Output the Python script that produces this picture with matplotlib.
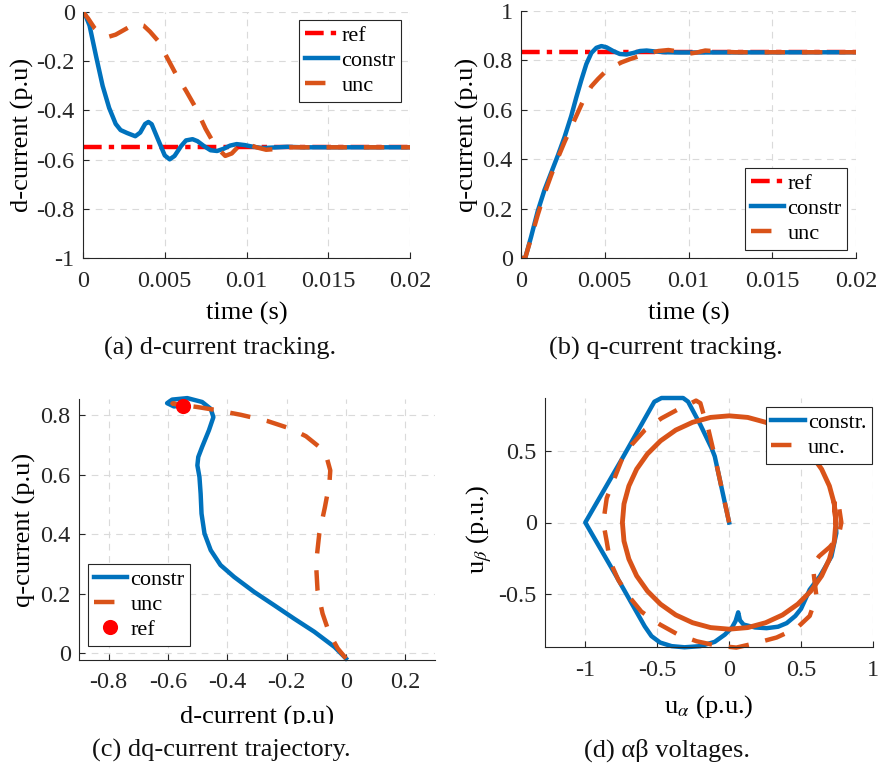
import matplotlib
matplotlib.use("Agg")
import matplotlib.pyplot as plt
from matplotlib.transforms import Bbox, TransformedBbox

plt.rcParams["font.family"] = ["Liberation Serif", "DejaVu Serif"]
plt.rcParams["mathtext.fontset"] = "stix"
plt.rcParams["axes.unicode_minus"] = False

BLUE = "#0072BD"
ORANGE = "#D95319"
RED = "#FF0000"
DARK = "#262626"

# (a) d-current tracking
t_d_constr = [0, 0.0001, 0.0004, 0.0008, 0.0012, 0.0016, 0.002, 0.0023, 0.0027, 0.0032, 0.0035,
              0.0038, 0.004, 0.0042, 0.0046, 0.005, 0.0053, 0.0056, 0.006, 0.0063, 0.0067, 0.007,
              0.0074, 0.0078, 0.0082, 0.0086, 0.009, 0.0094, 0.0099, 0.0104, 0.011, 0.0116, 0.0125,
              0.0135, 0.02]
d_constr = [0, -0.005, -0.055, -0.18, -0.3, -0.39, -0.455, -0.48, -0.492, -0.505, -0.49,
            -0.455, -0.447, -0.456, -0.52, -0.583, -0.599, -0.585, -0.545, -0.522, -0.517, -0.525,
            -0.545, -0.562, -0.565, -0.556, -0.543, -0.537, -0.541, -0.548, -0.553, -0.551, -0.548,
            -0.55, -0.55]
t_d_unc = [0, 0.0003, 0.0007, 0.0011, 0.0016, 0.002, 0.0024, 0.0028, 0.0033, 0.0037, 0.0041,
           0.0046, 0.0051, 0.0057, 0.0063, 0.0069, 0.0075, 0.0081, 0.0087, 0.0091, 0.0096, 0.0101,
           0.0106, 0.0112, 0.0118, 0.0127, 0.02]
d_unc = [0, -0.025, -0.065, -0.09, -0.1, -0.092, -0.077, -0.062, -0.048, -0.055, -0.08,
         -0.118, -0.18, -0.255, -0.32, -0.39, -0.475, -0.545, -0.585, -0.575, -0.54, -0.538,
         -0.55, -0.56, -0.557, -0.55, -0.55]
d_ref = -0.55

# (b) q-current tracking
t_q_constr = [0, 0.00025, 0.0006, 0.001, 0.0014, 0.0018, 0.0022, 0.0026, 0.003, 0.0033, 0.0036,
              0.0039, 0.0042, 0.0045, 0.0048, 0.0051, 0.0055, 0.0059, 0.0063, 0.0067, 0.0071,
              0.0075, 0.008, 0.0086, 0.0095, 0.02]
q_constr = [0, 0, 0.085, 0.19, 0.275, 0.345, 0.415, 0.49, 0.575, 0.65, 0.72,
            0.785, 0.83, 0.851, 0.858, 0.853, 0.838, 0.826, 0.824, 0.83, 0.838,
            0.84, 0.836, 0.833, 0.832, 0.833]
t_q_unc = [0, 0.00025, 0.0006, 0.001, 0.0014, 0.0018, 0.0022, 0.0026, 0.003, 0.0034, 0.0038,
           0.0042, 0.0046, 0.005, 0.0055, 0.006, 0.0065, 0.007, 0.0076, 0.0082, 0.0088, 0.0094,
           0.0099, 0.0105, 0.011, 0.0118, 0.0128, 0.02]
q_unc = [0, 0, 0.08, 0.175, 0.26, 0.335, 0.405, 0.47, 0.53, 0.59, 0.65,
         0.695, 0.725, 0.752, 0.775, 0.792, 0.805, 0.816, 0.828, 0.838, 0.842, 0.836,
         0.826, 0.832, 0.84, 0.836, 0.833, 0.833]
q_ref = 0.833

# (c) dq-current trajectory
dq_constr_d = [0, -0.039, -0.107, -0.175, -0.242, -0.31, -0.377, -0.423, -0.456, -0.477, -0.487,
               -0.49, -0.494, -0.501, -0.498, -0.485, -0.462, -0.447, -0.456, -0.485, -0.535,
               -0.586, -0.603, -0.58, -0.55]
dq_constr_q = [-0.017, 0.022, 0.073, 0.117, 0.162, 0.207, 0.257, 0.297, 0.347, 0.403, 0.47,
               0.537, 0.593, 0.632, 0.66, 0.694, 0.75, 0.794, 0.822, 0.845, 0.858,
               0.853, 0.841, 0.83, 0.833]
dq_unc_d = [0, -0.028, -0.056, -0.079, -0.096, -0.101, -0.09, -0.071, -0.056, -0.053, -0.064,
            -0.09, -0.135, -0.186, -0.265, -0.355, -0.445, -0.501, -0.569, -0.585, -0.55]
dq_unc_q = [-0.017, 0.017, 0.067, 0.134, 0.213, 0.302, 0.403, 0.492, 0.571, 0.615, 0.655,
            0.694, 0.73, 0.755, 0.781, 0.802, 0.819, 0.828, 0.837, 0.84, 0.834]
dq_ref = (-0.55, 0.833)

# (d) alpha-beta voltages
ab_constr_a = [0.0, -0.05, -0.1, -0.122, -0.2, -0.285, -0.32, -0.47, -0.52, -0.75, -1.0, -0.8,
               -0.587, -0.54, -0.48, -0.4, -0.31, -0.2, -0.1, -0.03, 0.02, 0.045, 0.063, 0.075,
               0.1, 0.18, 0.26, 0.34, 0.4, 0.46, 0.5, 0.56, 0.63, 0.711, 0.745, 0.742]
ab_constr_b = [0.0, 0.23, 0.46, 0.517, 0.68, 0.84, 0.866, 0.866, 0.84, 0.433, 0.0, -0.346,
               -0.722, -0.79, -0.835, -0.86, -0.868, -0.86, -0.83, -0.78, -0.73, -0.685, -0.625, -0.68,
               -0.71, -0.73, -0.735, -0.725, -0.7, -0.65, -0.6, -0.467, -0.375, -0.236, -0.074, 0.0]
ab_unc_a = [0.0, -0.05, -0.1, -0.146, -0.18, -0.2, -0.23, -0.28, -0.342, -0.47, -0.585, -0.678,
            -0.747, -0.806, -0.851, -0.875, -0.851, -0.828, -0.77, -0.7, -0.61, -0.48, -0.354,
            -0.226, -0.088, 0.05, 0.18, 0.33, 0.47, 0.56, 0.607, 0.595, 0.585, 0.6, 0.625, 0.7,
            0.76, 0.78, 0.765, 0.717]
ab_unc_b = [0.0, 0.23, 0.46, 0.655, 0.76, 0.83, 0.848, 0.822, 0.794, 0.725, 0.644, 0.54,
            0.435, 0.285, 0.169, 0.0, -0.132, -0.27, -0.4, -0.51, -0.62, -0.71, -0.78,
            -0.826, -0.856, -0.87, -0.84, -0.8, -0.735, -0.65, -0.514, -0.42, -0.33, -0.27, -0.235, -0.17,
            -0.1, 0.0, 0.1, 0.192]
# steady-state circle of the unconstrained voltage
circ_a = [0.742, 0.731, 0.697, 0.643, 0.568, 0.477, 0.371, 0.254, 0.129, 0.0,
          -0.129, -0.254, -0.371, -0.477, -0.568, -0.643, -0.697, -0.731, -0.742,
          -0.731, -0.697, -0.643, -0.568, -0.477, -0.371, -0.254, -0.129, 0.0,
          0.129, 0.254, 0.371, 0.477, 0.568, 0.643, 0.697, 0.731, 0.742, 0.731]
circ_b = [0.0, 0.129, 0.254, 0.371, 0.477, 0.568, 0.643, 0.697, 0.731, 0.742,
          0.731, 0.697, 0.643, 0.568, 0.477, 0.371, 0.254, 0.129, 0.0,
          -0.129, -0.254, -0.371, -0.477, -0.568, -0.643, -0.697, -0.731, -0.742,
          -0.731, -0.697, -0.643, -0.568, -0.477, -0.371, -0.254, -0.129, 0.0, 0.129]

t_ticks = [0, 0.005, 0.01, 0.015, 0.02]
t_labels = ["0", "0.005", "0.01", "0.015", "0.02"]
d_ticks = [-1, -0.8, -0.6, -0.4, -0.2, 0]
d_labels = ["-1", "-0.8", "-0.6", "-0.4", "-0.2", "0"]
q_ticks = [0, 0.2, 0.4, 0.6, 0.8, 1]
q_labels = ["0", "0.2", "0.4", "0.6", "0.8", "1"]
c_xticks = [-0.8, -0.6, -0.4, -0.2, 0, 0.2]
c_xlabels = ["-0.8", "-0.6", "-0.4", "-0.2", "0", "0.2"]
c_yticks = [0, 0.2, 0.4, 0.6, 0.8]
c_ylabels = ["0", "0.2", "0.4", "0.6", "0.8"]
v_xticks = [-1, -0.5, 0, 0.5, 1]
v_xlabels = ["-1", "-0.5", "0", "0.5", "1"]
v_yticks = [-0.5, 0, 0.5]
v_ylabels = ["-0.5", "0", "0.5"]

DASH = (0, (4.6, 3.8))
DASHDOT = (0, (4.2, 1.6, 1.2, 1.6))
LW = 3.2

W, H = 880, 769
fig = plt.figure(figsize=(W / 100, H / 100), dpi=100)


def px_axes(left, top, right, bottom):
    return fig.add_axes([left / W, 1 - bottom / H, (right - left) / W, (bottom - top) / H])


def style(ax):
    for side in ("top", "right"):
        ax.spines[side].set_visible(False)
    for side in ("left", "bottom"):
        ax.spines[side].set_color(DARK)
        ax.spines[side].set_linewidth(0.8)
    ax.tick_params(direction="in", length=4, width=0.8, colors=DARK, labelsize=17.5)
    ax.tick_params(axis="x", pad=9)
    ax.tick_params(axis="y", pad=6)
    ax.grid(True, color="#dadada", linestyle=(0, (6, 5)), linewidth=0.8)
    ax.set_axisbelow(True)


def legend(ax, loc, anchor):
    leg = ax.legend(loc=loc, bbox_to_anchor=anchor, bbox_transform=fig.transFigure,
                    borderaxespad=0, fontsize=16, handlelength=1.5, handletextpad=0.15,
                    borderpad=0.25, labelspacing=0.2, fancybox=False, framealpha=1)
    leg.get_frame().set_edgecolor(DARK)
    leg.get_frame().set_linewidth(0.8)
    return leg


# (a)
ax = px_axes(83, 12, 410, 258)
style(ax)
ax.plot([t_ticks[0], t_ticks[-1]], [d_ref, d_ref], color=RED, lw=LW, ls=DASHDOT, label="ref")
ax.plot(t_d_constr, d_constr, color=BLUE, lw=LW, label="constr")
ax.plot(t_d_unc, d_unc, color=ORANGE, lw=LW, ls=DASH, label="unc")
ax.set_xlim(0, 0.02)
ax.set_ylim(-1, 0)
ax.set_xticks(t_ticks, t_labels)
ax.set_yticks(d_ticks, d_labels)
ax.set_xlabel("time (s)", fontsize=19)
ax.set_ylabel("d-current (p.u)", fontsize=19)
ax.xaxis.set_label_coords(0.5, -0.178)
ax.yaxis.set_label_coords(-0.15, 0.5)
legend(ax, "upper right", (401 / W, 1 - 20 / H))

# (b)
ax = px_axes(521, 11, 856, 258)
style(ax)
ax.plot([t_ticks[0], t_ticks[-1]], [q_ref, q_ref], color=RED, lw=LW, ls=DASHDOT, label="ref")
ax.plot(t_q_constr, q_constr, color=BLUE, lw=LW, label="constr")
ax.plot(t_q_unc, q_unc, color=ORANGE, lw=LW, ls=DASH, label="unc")
ax.set_xlim(0, 0.02)
ax.set_ylim(0, 1)
ax.set_xticks(t_ticks, t_labels)
ax.set_yticks(q_ticks, q_labels)
ax.set_xlabel("time (s)", fontsize=19)
ax.set_ylabel("q-current (p.u)", fontsize=19)
ax.xaxis.set_label_coords(0.5, -0.178)
ax.yaxis.set_label_coords(-0.125, 0.5)
legend(ax, "upper right", (847 / W, 1 - 168 / H))

# (c)
ax = px_axes(79, 399, 435, 660)
style(ax)
ax.plot(dq_constr_d, dq_constr_q, color=BLUE, lw=LW, label="constr", clip_on=False)
ax.plot(dq_unc_d, dq_unc_q, color=ORANGE, lw=LW, ls=DASH, label="unc", clip_on=False)
ax.plot([dq_ref[0]], [dq_ref[1]], ls="none", marker="o", ms=8.5, mew=2.4,
        mfc=RED, mec=RED, label="ref", clip_on=False)
ax.set_xlim(-0.9, 0.3)
ax.set_ylim(-0.022, 0.855)
ax.set_xticks(c_xticks, c_xlabels)
ax.set_yticks(c_yticks, c_ylabels)
xl = ax.set_xlabel("d-current (p.u)", fontsize=19)
ax.set_ylabel("q-current (p.u)", fontsize=19)
ax.xaxis.set_label_coords(0.5, -0.176)
ax.yaxis.set_label_coords(-0.121, 0.5)
xl.set_clip_box(TransformedBbox(Bbox([[0, (H - 724) / H], [1, 1]]), fig.transFigure))
xl.set_clip_on(True)
legend(ax, "upper left", (88 / W, 1 - 564 / H))

# (d)
ax = px_axes(545, 398, 873, 647)
style(ax)
ax.plot(ab_constr_a, ab_constr_b, color=BLUE, lw=LW, label="constr.", clip_on=False)
ax.plot(ab_unc_a, ab_unc_b, color=ORANGE, lw=LW, ls=DASH, label="unc.", clip_on=False)
ax.plot(circ_a, circ_b, color=ORANGE, lw=LW + 0.3, solid_joinstyle="round")
ax.set_xlim(-1.28, 1.0)
ax.set_ylim(-0.866, 0.866)
ax.set_xticks(v_xticks, v_xlabels)
ax.set_yticks(v_yticks, v_ylabels)
ax.set_xlabel(r"u$_\alpha$ (p.u.)", fontsize=19)
ax.set_ylabel(r"u$_\beta$ (p.u.)", fontsize=19)
ax.xaxis.set_label_coords(0.5, -0.185)
ax.yaxis.set_label_coords(-0.157, 0.47)
legend(ax, "upper right", (872 / W, 1 - 407 / H))

# captions
captions = ["(a) d-current tracking.", "(b) q-current tracking.",
            "(c) dq-current trajectory.", "(d) \u03b1\u03b2 voltages."]
cap_pos = [(220, 355), (666, 355), (221, 757), (667, 757)]
for text, (cx, cy) in zip(captions, cap_pos):
    fig.text(cx / W, 1 - cy / H, text, fontsize=19, ha="center", va="baseline", color="#111111")

fig.savefig("out.png", dpi=100)
